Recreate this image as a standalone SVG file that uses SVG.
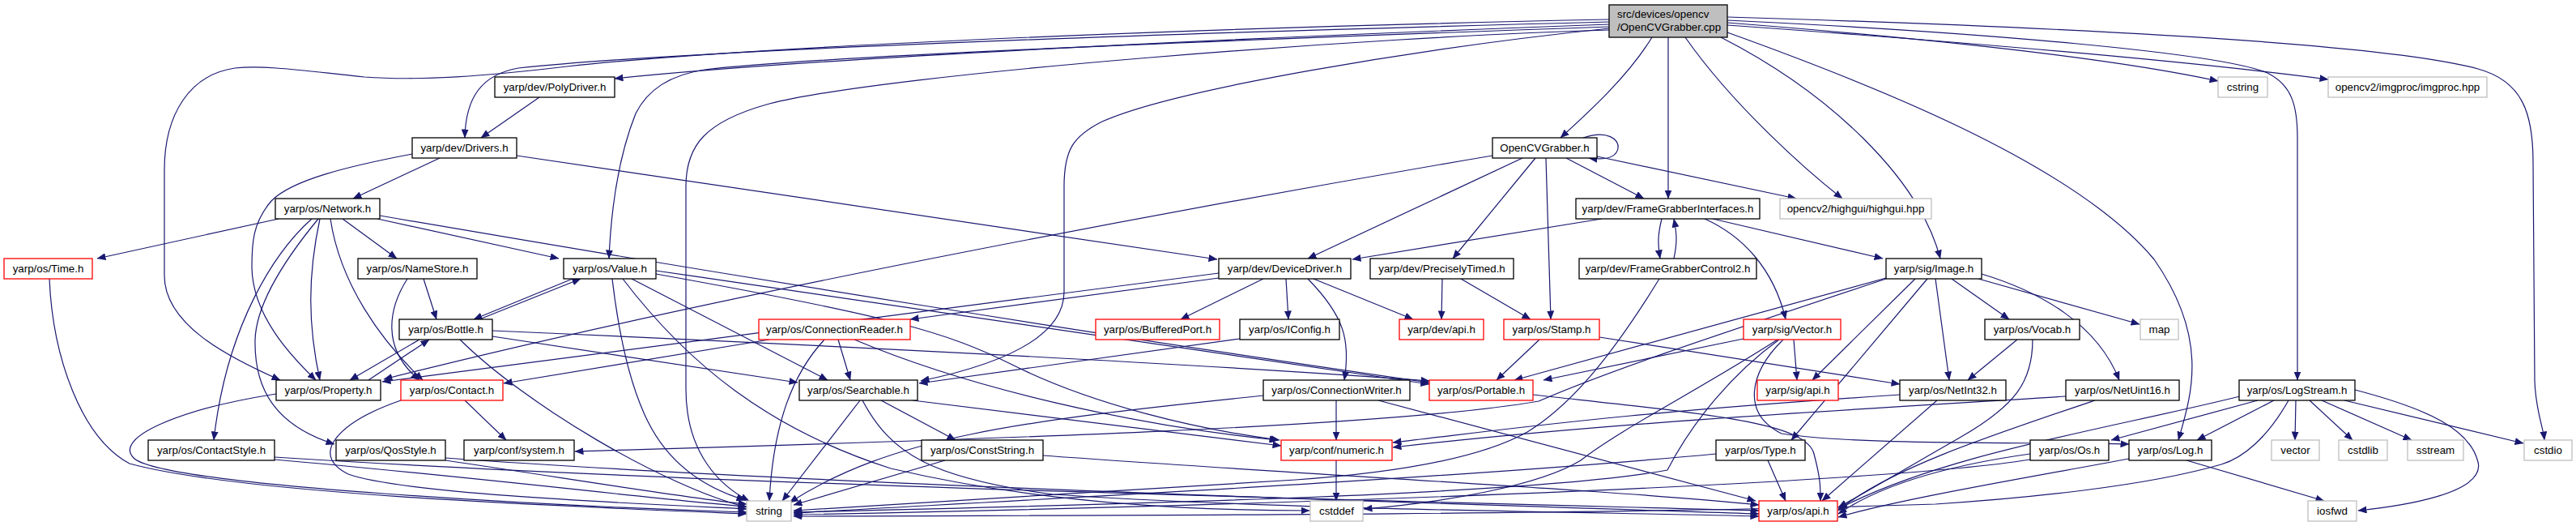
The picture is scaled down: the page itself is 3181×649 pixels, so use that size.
<svg xmlns="http://www.w3.org/2000/svg" width="3181" height="649" viewBox="0 0 3181 649">
<defs>
<marker id="a" viewBox="0 0 11 9" refX="10.5" refY="4.5" markerWidth="11" markerHeight="9" markerUnits="userSpaceOnUse" orient="auto"><path d="M0,0 L11,4.5 L0,9 z" fill="#191970"/></marker>
<style>
.e{fill:none;stroke:#191970;stroke-width:1.2;marker-end:url(#a)}
.node rect{fill:#ffffff;stroke:#000000;stroke-width:1.3}
.node.r rect{stroke:#ff0000}
.node.g rect{stroke:#bfbfbf}
.node.m rect{fill:#bfbfbf}
.node text{font-family:"Liberation Sans",Arial,sans-serif;font-size:13.33px;fill:#000000;text-anchor:middle}
.node.m text{text-anchor:start}
</style>
</defs>
<rect width="3181" height="649" fill="#ffffff"/>
<g id="edges">
<path class="e" d="M2040,46 C2010,95 1960,140 1927,170"/>
<path class="e" d="M2060,46 L2060,245"/>
<path class="e" d="M2081,46 C2140,130 2230,210 2275,245"/>
<path class="e" d="M2125,46 C2260,115 2370,220 2396,319"/>
<path class="e" d="M2133,40 C2300,100 2560,200 2660,320 C2730,420 2705,490 2690,543"/>
<path class="e" d="M2133,28 C2350,45 2600,70 2739,100"/>
<path class="e" d="M2133,31 C2400,50 2700,75 2875,98"/>
<path class="e" d="M2133,25 C2450,40 2740,65 2800,90 C2830,105 2837,130 2837,170 L2837,469"/>
<path class="e" d="M2133,21 C2600,35 2950,55 3060,85 C3115,100 3128,140 3128,200 L3130,470 C3131,505 3140,525 3142,543"/>
<path class="e" d="M1987,30 C1500,48 1000,72 759,97"/>
<path class="e" d="M1987,27 C1400,42 850,62 640,84 C595,92 575,120 574,170"/>
<path class="e" d="M1987,24 C1400,36 900,60 700,82 C600,94 520,100 450,95 C380,88 330,80 290,84 C235,92 203,140 203,210 L203,340 C203,400 280,440 346,469"/>
<path class="e" d="M1987,33 C1500,50 1000,70 870,86 C830,92 800,110 785,140 C765,190 755,250 752,319"/>
<path class="e" d="M1987,35 C1750,60 1450,110 1361,150 C1325,168 1314,185 1314,230 L1314,360 C1314,425 1210,455 1137,470"/>
<path class="e" d="M1987,37 C1700,45 1100,90 950,128 C870,150 847,180 847,230 L847,480 C847,560 890,600 925,618"/>
<path class="e" d="M1955,170 C1985,160 2000,172 1998,183 C1996,194 1985,198 1962,195"/>
<path class="e" d="M1843,192 C1500,250 900,360 474,468"/>
<path class="e" d="M1880,195 L1615,319"/>
<path class="e" d="M1896,195 L1794,319"/>
<path class="e" d="M1909,195 L1915,394"/>
<path class="e" d="M1934,195 L2030,245"/>
<path class="e" d="M1972,193 L2218,245"/>
<path class="e" d="M666,120 L594,170"/>
<path class="e" d="M543,195 L436,245"/>
<path class="e" d="M509,190 C430,205 360,222 335,248 C312,275 311,300 311,330 C312,390 360,440 390,469"/>
<path class="e" d="M638,192 L1503,320"/>
<path class="e" d="M1978,270 L1670,320"/>
<path class="e" d="M2052,270 C2047,290 2047,300 2050,319"/>
<path class="e" d="M2067,319 C2071,300 2071,290 2067,270"/>
<path class="e" d="M2105,270 C2150,290 2190,330 2205,394"/>
<path class="e" d="M2115,270 L2325,319"/>
<path class="e" d="M344,270 L120,319"/>
<path class="e" d="M385,270 C340,310 280,400 264,543"/>
<path class="e" d="M393,270 C360,310 316,370 315,420 C314,480 340,525 413,548"/>
<path class="e" d="M395,270 C380,340 380,400 395,469"/>
<path class="e" d="M408,270 C420,350 470,420 522,469"/>
<path class="e" d="M423,270 L490,319"/>
<path class="e" d="M466,270 L690,319"/>
<path class="e" d="M469,266 C900,340 1400,420 1765,472"/>
<path class="e" d="M523,344 L539,394"/>
<path class="e" d="M503,344 C480,380 470,430 518,469"/>
<path class="e" d="M707,344 L585,394"/>
<path class="e" d="M592,394 L717,344"/>
<path class="e" d="M756,344 C765,420 780,480 800,520 C830,580 880,605 920,617"/>
<path class="e" d="M780,344 L1022,469"/>
<path class="e" d="M769,344 C850,450 950,530 1100,578 C1300,625 1500,630 1617,630"/>
<path class="e" d="M810,334 C1200,390 1600,450 1765,474"/>
<path class="e" d="M810,338 C1100,390 1170,410 1250,450 C1350,500 1480,530 1580,543"/>
<path class="e" d="M518,419 L432,469"/>
<path class="e" d="M455,469 L530,419"/>
<path class="e" d="M608,415 L985,472"/>
<path class="e" d="M608,408 C1000,425 1500,450 1765,470"/>
<path class="e" d="M568,419 C650,500 820,600 922,626"/>
<path class="e" d="M341,486 C220,505 140,540 165,565 C200,600 700,625 922,632"/>
<path class="e" d="M574,494 L625,543"/>
<path class="e" d="M495,494 C420,520 380,560 430,585 C500,610 800,622 922,628"/>
<path class="e" d="M339,564 C900,600 1800,620 2172,630"/>
<path class="e" d="M339,567 C600,590 800,615 922,625"/>
<path class="e" d="M550,565 C1000,598 1800,622 2172,634"/>
<path class="e" d="M550,568 C700,590 850,615 922,622"/>
<path class="e" d="M61,344 C65,440 100,540 160,572 C300,610 700,625 922,634"/>
<path class="e" d="M950,419 L622,473"/>
<path class="e" d="M1018,419 C980,460 955,520 950,618"/>
<path class="e" d="M1035,419 L1050,469"/>
<path class="e" d="M1055,419 C1200,480 1400,525 1578,543"/>
<path class="e" d="M1062,494 L966,618"/>
<path class="e" d="M1088,494 L1180,543"/>
<path class="e" d="M1127,494 C1300,515 1450,535 1582,550"/>
<path class="e" d="M1065,494 C1100,560 1150,590 1300,610 C1600,630 2000,632 2172,637"/>
<path class="e" d="M1167,568 L980,623"/>
<path class="e" d="M1288,562 C1600,585 2000,605 2172,623"/>
<path class="e" d="M1505,343 L1124,394"/>
<path class="e" d="M1505,337 L472,471"/>
<path class="e" d="M1560,344 L1458,394"/>
<path class="e" d="M1588,344 L1591,394"/>
<path class="e" d="M1615,344 C1660,390 1668,420 1660,469"/>
<path class="e" d="M1622,344 L1745,394"/>
<path class="e" d="M1531,418 L1135,473"/>
<path class="e" d="M1781,344 L1780,394"/>
<path class="e" d="M1804,344 L1890,394"/>
<path class="e" d="M1901,419 L1848,469"/>
<path class="e" d="M1975,416 L2346,474"/>
<path class="e" d="M1650,494 L1650,543"/>
<path class="e" d="M1560,488 C1250,520 1100,540 975,620"/>
<path class="e" d="M1702,494 L2168,618"/>
<path class="e" d="M1893,487 C2100,510 2230,520 2240,560 C2248,590 2248,600 2248,618"/>
<path class="e" d="M1650,568 L1650,618"/>
<path class="e" d="M2049,344 C1990,440 1940,500 1886,533 C1820,570 1700,585 1600,592 C1300,612 1100,624 980,630"/>
<path class="e" d="M2153,418 L1906,469"/>
<path class="e" d="M2215,419 L2219,469"/>
<path class="e" d="M2195,419 C2100,480 2000,530 1952,568 C1900,600 1780,620 1684,628"/>
<path class="e" d="M2197,419 C2140,460 2090,520 2059,580 C1900,610 1400,622 980,632"/>
<path class="e" d="M2202,419 C2160,460 2150,510 2200,535 C2300,550 2500,545 2629,548"/>
<path class="e" d="M2329,343 L1870,469"/>
<path class="e" d="M2329,344 C2100,420 1980,460 1900,495 C1700,530 1100,545 710,557"/>
<path class="e" d="M2365,344 L2238,469"/>
<path class="e" d="M2380,344 L2212,543"/>
<path class="e" d="M2390,344 L2407,469"/>
<path class="e" d="M2410,344 L2481,394"/>
<path class="e" d="M2443,344 L2642,400"/>
<path class="e" d="M2447,338 C2520,360 2590,400 2617,469"/>
<path class="e" d="M2491,419 L2430,469"/>
<path class="e" d="M2510,419 C2510,470 2490,500 2420,540 C2350,580 2300,610 2270,626"/>
<path class="e" d="M2346,487 C2000,510 1900,525 1720,546"/>
<path class="e" d="M2392,494 L2250,618"/>
<path class="e" d="M2551,489 C2300,505 2000,520 1720,552"/>
<path class="e" d="M2587,494 C2450,540 2330,580 2270,630"/>
<path class="e" d="M2183,568 L2205,618"/>
<path class="e" d="M2119,560 C1800,590 1300,615 980,633"/>
<path class="e" d="M2507,560 C2400,575 2320,600 2270,634"/>
<path class="e" d="M2507,567 C2300,600 1500,625 980,635"/>
<path class="e" d="M2700,568 L2870,618"/>
<path class="e" d="M2629,566 C2500,590 2350,615 2270,638"/>
<path class="e" d="M2788,494 L2607,543"/>
<path class="e" d="M2808,494 L2713,543"/>
<path class="e" d="M2835,494 L2834,543"/>
<path class="e" d="M2852,494 L2905,543"/>
<path class="e" d="M2867,494 L2978,543"/>
<path class="e" d="M2895,494 L3116,547"/>
<path class="e" d="M2908,481 C3000,505 3050,530 3060,570 C3070,610 2960,625 2912,630"/>
<path class="e" d="M2766,489 C2600,530 2400,560 2270,628"/>
<path class="e" d="M2826,494 C2800,540 2770,565 2743,573 C2650,600 2500,615 2390,622 C2000,635 1400,636 980,637"/>
</g>
<g id="nodes">
<g id="n-main" class="node m"><rect x="1987" y="6" width="146" height="40"/><text x="1997" y="22">src/devices/opencv</text><text x="1997" y="38">/OpenCVGrabber.cpp</text></g>
<g id="n-polydriver" class="node"><rect x="611" y="95" width="148" height="25"/><text x="685" y="112">yarp/dev/PolyDriver.h</text></g>
<g id="n-cstring" class="node g"><rect x="2739" y="95" width="61" height="25"/><text x="2769.5" y="112">cstring</text></g>
<g id="n-imgproc" class="node g"><rect x="2875" y="95" width="196" height="25"/><text x="2973" y="112">opencv2/imgproc/imgproc.hpp</text></g>
<g id="n-drivers" class="node"><rect x="509" y="170" width="129" height="25"/><text x="573.5" y="187">yarp/dev/Drivers.h</text></g>
<g id="n-ocvh" class="node"><rect x="1843" y="170" width="129" height="25"/><text x="1907.5" y="187">OpenCVGrabber.h</text></g>
<g id="n-network" class="node"><rect x="340" y="245" width="129" height="25"/><text x="404.5" y="262">yarp/os/Network.h</text></g>
<g id="n-fgi" class="node"><rect x="1946" y="245" width="227" height="25"/><text x="2059.5" y="262">yarp/dev/FrameGrabberInterfaces.h</text></g>
<g id="n-highgui" class="node g"><rect x="2198" y="245" width="187" height="25"/><text x="2291.5" y="262">opencv2/highgui/highgui.hpp</text></g>
<g id="n-time" class="node r"><rect x="5" y="319" width="109" height="25"/><text x="59.5" y="336">yarp/os/Time.h</text></g>
<g id="n-namestore" class="node"><rect x="442" y="319" width="147" height="25"/><text x="515.5" y="336">yarp/os/NameStore.h</text></g>
<g id="n-value" class="node"><rect x="696" y="319" width="114" height="25"/><text x="753" y="336">yarp/os/Value.h</text></g>
<g id="n-devicedriver" class="node"><rect x="1505" y="319" width="163" height="25"/><text x="1586.5" y="336">yarp/dev/DeviceDriver.h</text></g>
<g id="n-preciselytimed" class="node"><rect x="1692" y="319" width="177" height="25"/><text x="1780.5" y="336">yarp/dev/PreciselyTimed.h</text></g>
<g id="n-fgc2" class="node"><rect x="1950" y="319" width="219" height="25"/><text x="2059.5" y="336">yarp/dev/FrameGrabberControl2.h</text></g>
<g id="n-image" class="node"><rect x="2329" y="319" width="118" height="25"/><text x="2388" y="336">yarp/sig/Image.h</text></g>
<g id="n-bottle" class="node"><rect x="493" y="394" width="115" height="25"/><text x="550.5" y="411">yarp/os/Bottle.h</text></g>
<g id="n-connreader" class="node r"><rect x="937" y="394" width="187" height="25"/><text x="1030.5" y="411">yarp/os/ConnectionReader.h</text></g>
<g id="n-bufferedport" class="node r"><rect x="1353" y="394" width="153" height="25"/><text x="1429.5" y="411">yarp/os/BufferedPort.h</text></g>
<g id="n-iconfig" class="node"><rect x="1531" y="394" width="123" height="25"/><text x="1592.5" y="411">yarp/os/IConfig.h</text></g>
<g id="n-devapi" class="node r"><rect x="1728" y="394" width="104" height="25"/><text x="1780" y="411">yarp/dev/api.h</text></g>
<g id="n-stamp" class="node r"><rect x="1857" y="394" width="118" height="25"/><text x="1916" y="411">yarp/os/Stamp.h</text></g>
<g id="n-vector" class="node r"><rect x="2153" y="394" width="120" height="25"/><text x="2213" y="411">yarp/sig/Vector.h</text></g>
<g id="n-vocab" class="node"><rect x="2451" y="394" width="117" height="25"/><text x="2509.5" y="411">yarp/os/Vocab.h</text></g>
<g id="n-map" class="node g"><rect x="2643" y="394" width="47" height="25"/><text x="2666.5" y="411">map</text></g>
<g id="n-property" class="node"><rect x="341" y="469" width="129" height="25"/><text x="405.5" y="486">yarp/os/Property.h</text></g>
<g id="n-contact" class="node r"><rect x="495" y="469" width="126" height="25"/><text x="558" y="486">yarp/os/Contact.h</text></g>
<g id="n-searchable" class="node"><rect x="987" y="469" width="146" height="25"/><text x="1060" y="486">yarp/os/Searchable.h</text></g>
<g id="n-connwriter" class="node"><rect x="1560" y="469" width="181" height="25"/><text x="1650.5" y="486">yarp/os/ConnectionWriter.h</text></g>
<g id="n-portable" class="node r"><rect x="1765" y="469" width="128" height="25"/><text x="1829" y="486">yarp/os/Portable.h</text></g>
<g id="n-sigapi" class="node r"><rect x="2170" y="469" width="100" height="25"/><text x="2220" y="486">yarp/sig/api.h</text></g>
<g id="n-netint32" class="node"><rect x="2346" y="469" width="131" height="25"/><text x="2411.5" y="486">yarp/os/NetInt32.h</text></g>
<g id="n-netuint16" class="node"><rect x="2551" y="469" width="140" height="25"/><text x="2621" y="486">yarp/os/NetUint16.h</text></g>
<g id="n-logstream" class="node"><rect x="2765" y="469" width="143" height="25"/><text x="2836.5" y="486">yarp/os/LogStream.h</text></g>
<g id="n-contactstyle" class="node"><rect x="183" y="543" width="156" height="25"/><text x="261" y="560">yarp/os/ContactStyle.h</text></g>
<g id="n-qosstyle" class="node"><rect x="415" y="543" width="135" height="25"/><text x="482.5" y="560">yarp/os/QosStyle.h</text></g>
<g id="n-system" class="node"><rect x="573" y="543" width="136" height="25"/><text x="641" y="560">yarp/conf/system.h</text></g>
<g id="n-conststring" class="node"><rect x="1138" y="543" width="150" height="25"/><text x="1213" y="560">yarp/os/ConstString.h</text></g>
<g id="n-numeric" class="node r"><rect x="1582" y="543" width="137" height="25"/><text x="1650.5" y="560">yarp/conf/numeric.h</text></g>
<g id="n-type" class="node"><rect x="2119" y="543" width="110" height="25"/><text x="2174" y="560">yarp/os/Type.h</text></g>
<g id="n-os" class="node"><rect x="2507" y="543" width="97" height="25"/><text x="2555.5" y="560">yarp/os/Os.h</text></g>
<g id="n-log" class="node"><rect x="2629" y="543" width="102" height="25"/><text x="2680" y="560">yarp/os/Log.h</text></g>
<g id="n-vectorstd" class="node g"><rect x="2805" y="543" width="59" height="25"/><text x="2834.5" y="560">vector</text></g>
<g id="n-cstdlib" class="node g"><rect x="2888" y="543" width="60" height="25"/><text x="2918" y="560">cstdlib</text></g>
<g id="n-sstream" class="node g"><rect x="2973" y="543" width="69" height="25"/><text x="3007.5" y="560">sstream</text></g>
<g id="n-cstdio" class="node g"><rect x="3117" y="543" width="59" height="25"/><text x="3146.5" y="560">cstdio</text></g>
<g id="n-string" class="node g"><rect x="922" y="618" width="55" height="25"/><text x="949.5" y="635">string</text></g>
<g id="n-cstddef" class="node g"><rect x="1618" y="618" width="65" height="25"/><text x="1650.5" y="635">cstddef</text></g>
<g id="n-osapi" class="node r"><rect x="2172" y="618" width="97" height="25"/><text x="2220.5" y="635">yarp/os/api.h</text></g>
<g id="n-iosfwd" class="node g"><rect x="2850" y="618" width="60" height="25"/><text x="2880" y="635">iosfwd</text></g>
</g>
</svg>
